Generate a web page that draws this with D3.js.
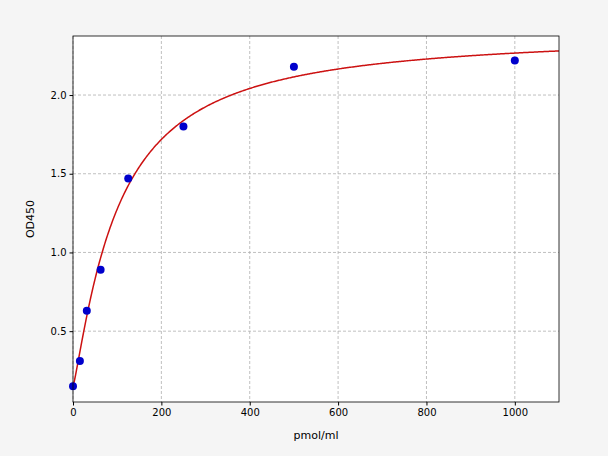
<!DOCTYPE html>
<html><head><meta charset="utf-8">
<script src="https://cdn.jsdelivr.net/npm/d3@7"></script>
<style>body{margin:0;background:#f5f5f5}svg{font-family:"DejaVu Sans",sans-serif}</style>
</head><body><svg id="c" width="608" height="456"></svg>
<script>
const concentration=[0,15.6,31.25,62.5,125,250,500,1000];
const od450=[0.15,0.31,0.63,0.89,1.47,1.80,2.18,2.22];
const xTicks=[0,200,400,600,800,1000];
const yTicks=[0.5,1.0,1.5,2.0];
const fit={bottom:0.15,top:2.4,ec50:100,hill:1.2};
const svg=d3.select("#c");
const L=73,R=559,T=36,B=402;
const x=d3.scaleLinear().domain([0,1100]).range([L,R]);
const y=d3.scaleLinear().domain([0.05,2.375]).range([B,T]);
svg.append("rect").attr("x",L).attr("y",T).attr("width",R-L).attr("height",B-T).attr("fill","#fff");
const g=svg.append("g");
xTicks.forEach(t=>g.append("line").attr("x1",x(t)).attr("x2",x(t)).attr("y1",T).attr("y2",B));
yTicks.forEach(t=>g.append("line").attr("y1",y(t)).attr("y2",y(t)).attr("x1",L).attr("x2",R));
g.selectAll("line").attr("stroke","#b0b0b0").attr("stroke-dasharray","3,2").attr("stroke-width",0.8);
const f=c=>fit.top-(fit.top-fit.bottom)/(1+Math.pow(c/fit.ec50,fit.hill));
const xs=d3.range(0,1100.5,2);
svg.append("clipPath").attr("id","cp").append("rect").attr("x",L).attr("y",T).attr("width",R-L).attr("height",B-T);
svg.append("path").attr("clip-path","url(#cp)").attr("d",d3.line().x(d=>x(d)).y(d=>y(f(d)))(xs)).attr("fill","none").attr("stroke","#cc1111").attr("stroke-width",1.5);
svg.selectAll("circle").data(concentration).enter().append("circle").attr("cx",d=>x(d)).attr("cy",(d,i)=>y(od450[i])).attr("r",4).attr("fill","#0000cc");
svg.append("g").attr("transform",`translate(0,${B})`).call(d3.axisBottom(x).tickValues(xTicks).tickFormat(d3.format("d")).tickSize(3.5).tickSizeOuter(0)).attr("font-size",10).attr("font-family","DejaVu Sans");
svg.append("g").attr("transform",`translate(${L},0)`).call(d3.axisLeft(y).tickValues(yTicks).tickFormat(d3.format(".1f")).tickSize(3.5).tickSizeOuter(0)).attr("font-size",10).attr("font-family","DejaVu Sans");
svg.selectAll(".domain").remove();
svg.append("rect").attr("x",L).attr("y",T).attr("width",R-L).attr("height",B-T).attr("fill","none").attr("stroke","#000").attr("stroke-width",0.8);
svg.selectAll(".tick text").attr("fill","#000");
svg.append("text").attr("x",(L+R)/2).attr("y",439).attr("text-anchor","middle").attr("font-size",11).text("pmol/ml");
svg.append("text").attr("transform",`translate(34,${(T+B)/2}) rotate(-90)`).attr("text-anchor","middle").attr("font-size",11).text("OD450");
</script></body></html>
